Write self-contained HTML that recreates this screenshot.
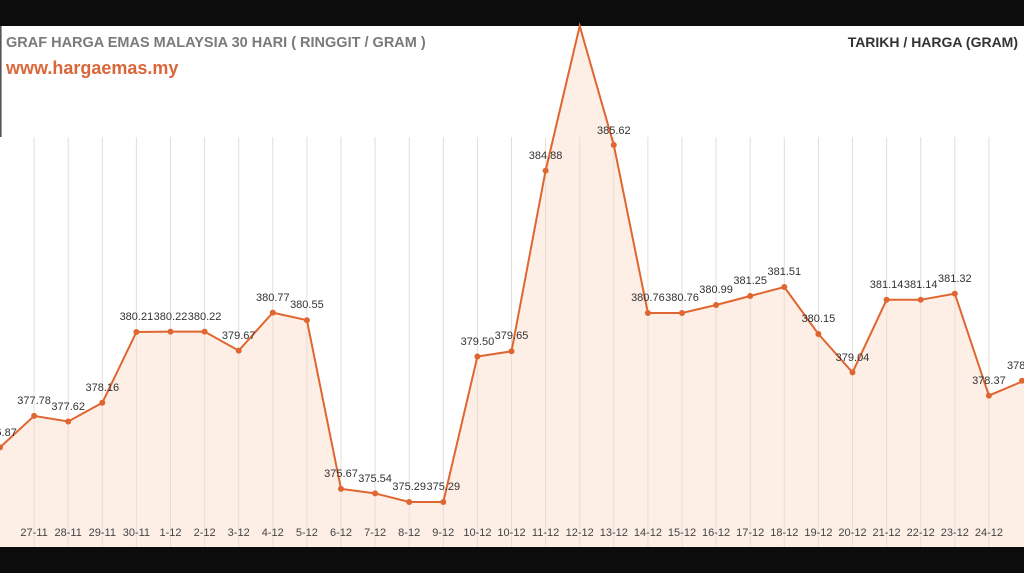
<!DOCTYPE html>
<html><head><meta charset="utf-8"><style>
html,body{margin:0;padding:0;background:#0c0c0c;}
svg{display:block;}
</style></head><body>
<svg width="1024" height="573" xmlns="http://www.w3.org/2000/svg" font-family="Liberation Sans, sans-serif">
<rect x="0" y="0" width="1024" height="573" fill="#0c0c0c"/>
<rect x="0" y="26" width="1024" height="521" fill="#ffffff"/>
<line x1="0.8" y1="26" x2="0.8" y2="137" stroke="#555" stroke-width="1.6"/>
<text x="6" y="47" font-size="14.5" font-weight="bold" fill="#7a7a7a">GRAF HARGA EMAS MALAYSIA 30 HARI ( RINGGIT / GRAM )</text>
<text x="6" y="74" font-size="18" font-weight="bold" fill="#d9673a">www.hargaemas.my</text>
<text x="1018" y="47" font-size="14" font-weight="bold" fill="#333" text-anchor="end">TARIKH / HARGA (GRAM)</text>
<path d="M0 447.4L34.1 415.9L68.2 421.5L102.3 402.8L136.4 332L170.5 331.6L204.6 331.6L238.7 350.6L272.8 312.6L306.9 320.2L341 488.9L375.1 493.4L409.2 502L443.3 502L477.4 356.5L511.5 351.3L545.6 170.6L579.7 26L613.8 145L647.9 313L682 313L716.1 305L750.2 296L784.3 287L818.4 334L852.5 372.4L886.6 299.8L920.7 299.8L954.8 293.6L988.9 395.6L1024 380.7L1024 547L0 547Z" fill="#fdece3" opacity="0.9"/>
<g stroke="#e9dcd3" stroke-width="1">
<path d="M34.1 137V547M68.2 137V547M102.3 137V547M136.4 137V547M170.5 137V547M204.6 137V547M238.7 137V547M272.8 137V547M306.9 137V547M341 137V547M375.1 137V547M409.2 137V547M443.3 137V547M477.4 137V547M511.5 137V547M545.6 137V547M579.7 137V547M613.8 137V547M647.9 137V547M682 137V547M716.1 137V547M750.2 137V547M784.3 137V547M818.4 137V547M852.5 137V547M886.6 137V547M920.7 137V547M954.8 137V547M988.9 137V547"/>
</g>
<polyline points="0,447.4 34.1,415.9 68.2,421.5 102.3,402.8 136.4,332 170.5,331.6 204.6,331.6 238.7,350.6 272.8,312.6 306.9,320.2 341,488.9 375.1,493.4 409.2,502 443.3,502 477.4,356.5 511.5,351.3 545.6,170.6 579.7,26 613.8,145 647.9,313 682,313 716.1,305 750.2,296 784.3,287 818.4,334 852.5,372.4 886.6,299.8 920.7,299.8 954.8,293.6 988.9,395.6 1024,380.7" fill="none" stroke="#e06631" stroke-width="2"/>
<g fill="#e06631">
<circle cx="0" cy="447.4" r="3"/><circle cx="34.1" cy="415.9" r="3"/><circle cx="68.2" cy="421.5" r="3"/><circle cx="102.3" cy="402.8" r="3"/><circle cx="136.4" cy="332" r="3"/><circle cx="170.5" cy="331.6" r="3"/><circle cx="204.6" cy="331.6" r="3"/><circle cx="238.7" cy="350.6" r="3"/><circle cx="272.8" cy="312.6" r="3"/><circle cx="306.9" cy="320.2" r="3"/><circle cx="341" cy="488.9" r="3"/><circle cx="375.1" cy="493.4" r="3"/><circle cx="409.2" cy="502" r="3"/><circle cx="443.3" cy="502" r="3"/><circle cx="477.4" cy="356.5" r="3"/><circle cx="511.5" cy="351.3" r="3"/><circle cx="545.6" cy="170.6" r="3"/><circle cx="613.8" cy="145" r="3"/><circle cx="647.9" cy="313" r="3"/><circle cx="682" cy="313" r="3"/><circle cx="716.1" cy="305" r="3"/><circle cx="750.2" cy="296" r="3"/><circle cx="784.3" cy="287" r="3"/><circle cx="818.4" cy="334" r="3"/><circle cx="852.5" cy="372.4" r="3"/><circle cx="886.6" cy="299.8" r="3"/><circle cx="920.7" cy="299.8" r="3"/><circle cx="954.8" cy="293.6" r="3"/><circle cx="988.9" cy="395.6" r="3"/><circle cx="1022" cy="380.7" r="3"/>
</g>
<g font-size="11" fill="#333" text-anchor="middle">
<text x="0" y="436">376.87</text><text x="34.1" y="404">377.78</text><text x="68.2" y="410">377.62</text><text x="102.3" y="391">378.16</text><text x="136.4" y="320">380.21</text><text x="170.5" y="320">380.22</text><text x="204.6" y="320">380.22</text><text x="238.7" y="339">379.67</text><text x="272.8" y="301">380.77</text><text x="306.9" y="308">380.55</text><text x="341" y="477">375.67</text><text x="375.1" y="482">375.54</text><text x="409.2" y="490">375.29</text><text x="443.3" y="490">375.29</text><text x="477.4" y="345">379.50</text><text x="511.5" y="339">379.65</text><text x="545.6" y="159">384.88</text><text x="613.8" y="134">385.62</text><text x="647.9" y="301">380.76</text><text x="682" y="301">380.76</text><text x="716.1" y="293">380.99</text><text x="750.2" y="284">381.25</text><text x="784.3" y="275">381.51</text><text x="818.4" y="322">380.15</text><text x="852.5" y="361">379.04</text><text x="886.6" y="288">381.14</text><text x="920.7" y="288">381.14</text><text x="954.8" y="282">381.32</text><text x="988.9" y="384">378.37</text><text x="1007" y="369" text-anchor="start">378.80</text>
</g>
<g font-size="11" fill="#444" text-anchor="middle">
<text x="34.1" y="536">27-11</text><text x="68.2" y="536">28-11</text><text x="102.3" y="536">29-11</text><text x="136.4" y="536">30-11</text><text x="170.5" y="536">1-12</text><text x="204.6" y="536">2-12</text><text x="238.7" y="536">3-12</text><text x="272.8" y="536">4-12</text><text x="306.9" y="536">5-12</text><text x="341" y="536">6-12</text><text x="375.1" y="536">7-12</text><text x="409.2" y="536">8-12</text><text x="443.3" y="536">9-12</text><text x="477.4" y="536">10-12</text><text x="511.5" y="536">10-12</text><text x="545.6" y="536">11-12</text><text x="579.7" y="536">12-12</text><text x="613.8" y="536">13-12</text><text x="647.9" y="536">14-12</text><text x="682" y="536">15-12</text><text x="716.1" y="536">16-12</text><text x="750.2" y="536">17-12</text><text x="784.3" y="536">18-12</text><text x="818.4" y="536">19-12</text><text x="852.5" y="536">20-12</text><text x="886.6" y="536">21-12</text><text x="920.7" y="536">22-12</text><text x="954.8" y="536">23-12</text><text x="988.9" y="536">24-12</text>
</g>
</svg>
</body></html>
